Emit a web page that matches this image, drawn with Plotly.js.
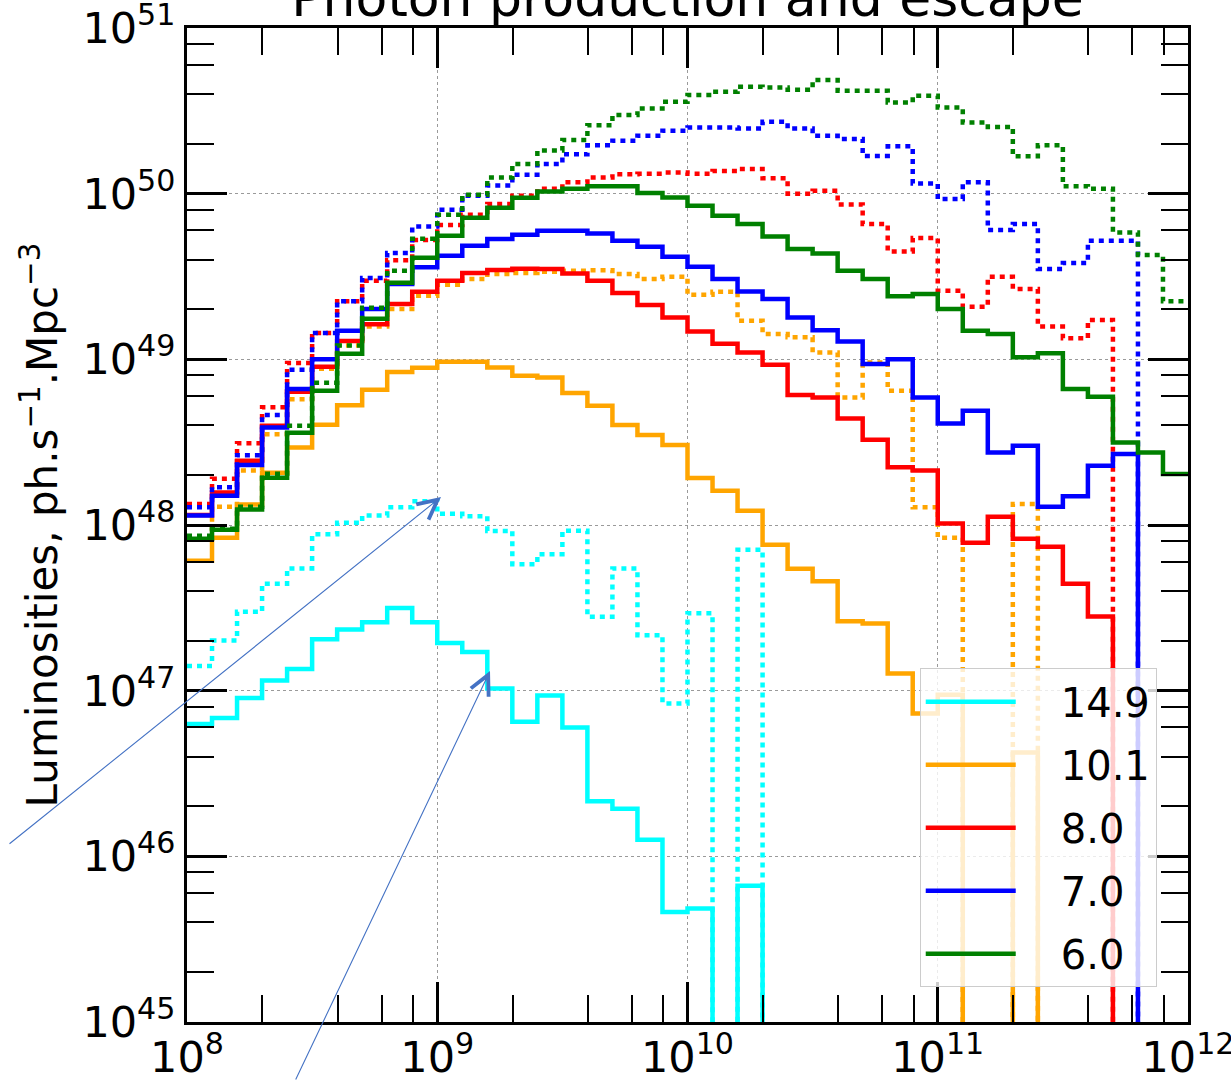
<!DOCTYPE html>
<html>
<head>
<meta charset="utf-8">
<script src="https://cdn.plot.ly/plotly-3.0.1.min.js"></script>
<style>
  html, body { margin: 0; padding: 0; background: #ffffff; }
  #chart { width: 1231px; height: 1081px; }
</style>
</head>
<body>
<div id="chart"></div>
<script>
// Bin edges (log10 of x), 0.1 dex wide bins from 1e8 to 1e12
const binEdgesLog10 = [8.0, 8.1, 8.2, 8.3, 8.4, 8.5, 8.6, 8.7, 8.8, 8.9,
  9.0, 9.1, 9.2, 9.3, 9.4, 9.5, 9.6, 9.7, 9.8, 9.9,
  10.0, 10.1, 10.2, 10.3, 10.4, 10.5, 10.6, 10.7, 10.8, 10.9,
  11.0, 11.1, 11.2, 11.3, 11.4, 11.5, 11.6, 11.7, 11.8, 11.9, 12.0];

const redshiftLabels = ['14.9', '10.1', '8.0', '7.0', '6.0'];
const seriesColors = ['#00FFFF', '#FFA500', '#FF0000', '#0000FF', '#008000'];

// Escaping luminosity per bin (solid lines); 0 = empty bin
const escaped_z149 = [6.29e46, 6.83e46, 9.03e46, 1.15e47, 1.35e47, 2.04e47, 2.34e47, 2.59e47, 3.15e47, 2.59e47,
  1.94e47, 1.71e47, 1.03e47, 6.50e46, 9.36e46, 6.00e46, 2.15e46, 1.94e46, 1.26e46, 4.62e45,
  4.85e45, 0, 6.64e45, 0, 0, 0, 0, 0, 0, 0,
  0, 0, 0, 0, 0, 0, 0, 0, 0, 0];
const escaped_z101 = [6.09e47, 8.38e47, 1.33e48, 2.07e48, 2.94e48, 4.03e48, 5.28e48, 6.55e48, 8.38e48, 8.90e48,
  9.68e48, 9.68e48, 8.94e48, 7.96e48, 7.78e48, 6.26e48, 5.25e48, 4.01e48, 3.49e48, 3.04e48,
  1.92e48, 1.61e48, 1.22e48, 7.60e47, 5.45e47, 4.58e47, 2.62e47, 2.54e47, 1.27e47, 7.27e46,
  9.46e46, 0, 0, 4.23e46, 0, 0, 0, 0, 0, 0];
const escaped_z80 = [1.15e48, 1.57e48, 2.44e48, 3.97e48, 6.37e48, 9.02e48, 1.29e49, 1.63e49, 2.16e49, 2.56e49,
  2.98e49, 3.32e49, 3.46e49, 3.52e49, 3.51e49, 3.30e49, 2.98e49, 2.51e49, 2.13e49, 1.79e49,
  1.47e49, 1.24e49, 1.10e49, 9.27e48, 6.09e48, 5.89e48, 4.40e48, 3.27e48, 2.23e48, 2.13e48,
  1.02e48, 7.82e47, 1.12e48, 8.27e47, 7.40e47, 4.42e47, 2.80e47, 0, 0, 0];
const escaped_z70 = [1.14e48, 1.50e48, 2.30e48, 3.88e48, 6.62e48, 1.00e49, 1.49e49, 2.01e49, 2.85e49, 3.59e49,
  4.22e49, 4.85e49, 5.32e49, 5.65e49, 5.97e49, 5.97e49, 5.75e49, 5.20e49, 4.78e49, 4.16e49,
  3.62e49, 3.05e49, 2.57e49, 2.31e49, 1.79e49, 1.50e49, 1.28e49, 9.37e48, 1.00e49, 5.89e48,
  4.10e48, 4.90e48, 2.74e48, 3.01e48, 1.29e48, 1.49e48, 2.28e48, 2.68e48, 0, 0];
const escaped_z60 = [8.27e47, 9.37e47, 1.24e48, 1.93e48, 3.61e48, 6.46e48, 1.08e49, 1.76e49, 2.90e49, 4.10e49,
  5.57e49, 7.15e49, 8.22e49, 9.45e49, 1.03e50, 1.07e50, 1.11e50, 1.11e50, 1.01e50, 9.49e49,
  8.45e49, 7.36e49, 6.56e49, 5.52e49, 4.63e49, 4.36e49, 3.43e49, 3.05e49, 2.40e49, 2.48e49,
  2.01e49, 1.49e49, 1.42e49, 1.03e49, 1.09e49, 6.62e48, 5.95e48, 3.15e48, 2.74e48, 2.03e48];

// Produced luminosity per bin (dotted lines); 0 = empty bin
const produced_z149 = [1.41e47, 2.01e47, 2.99e47, 4.42e47, 5.47e47, 8.78e47, 1.03e48, 1.14e48, 1.28e48, 1.39e48,
  1.17e48, 1.13e48, 9.21e47, 5.80e47, 6.66e47, 9.24e47, 2.79e47, 5.47e47, 2.16e47, 8.38e46,
  2.93e47, 0, 7.09e47, 0, 0, 0, 0, 0, 0, 0,
  0, 0, 0, 0, 0, 0, 0, 0, 0, 0];
const produced_z101 = [8.50e47, 1.29e48, 2.13e48, 3.53e48, 5.74e48, 8.78e48, 1.21e49, 1.58e49, 2.01e49, 2.42e49,
  2.82e49, 3.05e49, 3.27e49, 3.32e49, 3.38e49, 3.43e49, 3.45e49, 3.27e49, 3.05e49, 3.15e49,
  2.45e49, 2.56e49, 1.71e49, 1.42e49, 1.36e49, 1.10e49, 5.89e48, 9.58e48, 6.46e48, 1.28e48,
  8.38e47, 0, 0, 1.34e48, 0, 0, 0, 0, 0, 0];
const produced_z80 = [1.34e48, 1.90e48, 3.11e48, 5.13e48, 9.50e48, 1.44e49, 2.24e49, 2.98e49, 3.97e49, 5.25e49,
  6.47e49, 7.46e49, 8.65e49, 9.71e49, 1.07e50, 1.17e50, 1.25e50, 1.31e50, 1.32e50, 1.34e50,
  1.32e50, 1.37e50, 1.41e50, 1.24e50, 1.00e50, 1.04e50, 8.61e49, 6.56e49, 4.48e49, 5.40e49,
  2.59e49, 2.08e49, 3.15e49, 2.66e49, 1.58e49, 1.34e49, 1.73e49, 0, 0, 0];
const produced_z70 = [1.28e48, 1.69e48, 2.64e48, 4.61e48, 8.65e48, 1.44e49, 2.24e49, 3.10e49, 4.38e49, 6.34e49,
  8.00e49, 9.71e49, 1.12e50, 1.30e50, 1.51e50, 1.73e50, 1.96e50, 2.09e50, 2.24e50, 2.40e50,
  2.51e50, 2.51e50, 2.47e50, 2.72e50, 2.47e50, 2.24e50, 2.14e50, 1.69e50, 1.93e50, 1.15e50,
  9.27e49, 1.17e50, 6.03e49, 6.56e49, 3.51e49, 3.81e49, 5.20e49, 5.20e49, 0, 0];
const produced_z60 = [8.62e47, 9.50e47, 1.29e48, 2.04e48, 3.97e48, 7.22e48, 1.21e49, 2.05e49, 3.43e49, 5.34e49,
  7.46e49, 9.85e49, 1.25e50, 1.51e50, 1.82e50, 2.11e50, 2.59e50, 2.98e50, 3.27e50, 3.59e50,
  3.94e50, 4.12e50, 4.42e50, 4.38e50, 4.24e50, 4.85e50, 4.18e50, 4.18e50, 3.55e50, 3.90e50,
  3.31e50, 2.69e50, 2.53e50, 1.68e50, 1.96e50, 1.11e50, 1.07e50, 5.83e49, 4.26e49, 2.24e49];

const escapedSeries = [escaped_z149, escaped_z101, escaped_z80, escaped_z70, escaped_z60];
const producedSeries = [produced_z149, produced_z101, produced_z80, produced_z70, produced_z60];

// Tick labels
const xTickExponents = [8, 9, 10, 11, 12];
const yTickExponents = [45, 46, 47, 48, 49, 50, 51];
const minorMultipliers = [2, 4, 6, 8];

// ---------- build figure ----------
const FLOOR = 1e30; // empty bins drawn far below the axis (log scale)
const edgesX = binEdgesLog10.map(e => Math.pow(10, e));
function stepY(vals) {
  const y = vals.map(v => (v > 0 ? v : FLOOR));
  y.push(y[y.length - 1]);
  return y;
}
function minorVals(exps) {
  const out = [];
  for (let i = 0; i < exps.length - 1; i++) {
    minorMultipliers.forEach(m => out.push(m * Math.pow(10, exps[i])));
  }
  return out;
}
function supLabel(e) { return '10<sup>' + e + '</sup>'; }
function decade(e) { return Number('1e' + e); }

const traces = [];
redshiftLabels.forEach((lab, i) => {
  traces.push({
    type: 'scatter', mode: 'lines', x: edgesX, y: stepY(escapedSeries[i]),
    name: '\u2002\u2002' + lab, legendgroup: 'g' + i,
    line: { shape: 'hv', color: seriesColors[i], width: 4.5 },
    hoverinfo: 'skip'
  });
  traces.push({
    type: 'scatter', mode: 'lines', x: edgesX, y: stepY(producedSeries[i]),
    name: lab + ' (produced)', legendgroup: 'g' + i, showlegend: false,
    line: { shape: 'hv', color: seriesColors[i], width: 4.5, dash: '5px,5px' },
    hoverinfo: 'skip'
  });
});

const font = 'DejaVu Sans, Liberation Sans, sans-serif';
const axisCommon = {
  type: 'log', showline: true, linecolor: '#000', linewidth: 3, mirror: 'allticks',
  ticks: 'inside', ticklen: 40, tickwidth: 3, tickcolor: '#000',
  showgrid: true, gridcolor: '#9a9a9a', gridwidth: 1, griddash: 'dot',
  zeroline: false, tickmode: 'array', ticklabeloverflow: 'allow',
  tickfont: { family: font, size: 43, color: '#000' }
};

const layout = {
  width: 1231, height: 1081,
  margin: { l: 187, r: 43, t: 28, b: 59 },
  paper_bgcolor: '#fff', plot_bgcolor: '#fff',
  title: {
    text: 'Photon production and escape',
    font: { family: font, size: 52, color: '#000' },
    x: 0.5, xref: 'paper', xanchor: 'center',
    y: 1 - 16 / 1081, yref: 'container', yanchor: 'bottom'
  },
  xaxis: Object.assign({}, axisCommon, {
    range: [8, 12],
    ticklabelstandoff: -5,
    tickvals: xTickExponents.map(decade),
    ticktext: xTickExponents.map(supLabel),
    minor: { tickmode: 'array', tickvals: minorVals(xTickExponents), ticks: 'inside', ticklen: 27, tickwidth: 2, tickcolor: '#000', showgrid: false }
  }),
  yaxis: Object.assign({}, axisCommon, {
    range: [45, 51],
    tickvals: yTickExponents.map(decade),
    ticktext: yTickExponents.map(supLabel),
    minor: { tickmode: 'array', tickvals: minorVals(yTickExponents), ticks: 'inside', ticklen: 27, tickwidth: 2, tickcolor: '#000', showgrid: false },
    title: { text: 'Luminosities, ph.s<sup>\u22121</sup>.Mpc<sup>\u22123</sup>', font: { family: font, size: 42, color: '#000' }, standoff: 12 }
  }),
  showlegend: true,
  legend: {
    x: 0.732, y: 0.356, xanchor: 'left', yanchor: 'top',
    bgcolor: 'rgba(255,255,255,0.8)', bordercolor: '#cccccc', borderwidth: 1,
    font: { family: font, size: 40, color: '#000' },
    itemwidth: 90, tracegroupgap: 8, traceorder: 'grouped'
  },
  annotations: [
    { xref: 'paper', yref: 'paper', x: (441 - 187) / 1001, y: (1022 - 497) / 994,
      ax: -433, ay: 348, axref: 'pixel', ayref: 'pixel', text: '', showarrow: true,
      arrowhead: 5, arrowsize: 3.5, arrowwidth: 1.1, arrowcolor: '#4472C4', standoff: 0, startstandoff: 0 },
    { xref: 'paper', yref: 'paper', x: (490 - 187) / 1001, y: (1022 - 671) / 994,
      ax: -195, ay: 410, axref: 'pixel', ayref: 'pixel', text: '', showarrow: true,
      arrowhead: 5, arrowsize: 3.5, arrowwidth: 1.1, arrowcolor: '#4472C4', standoff: 0, startstandoff: 0 }
  ]
};

Plotly.newPlot('chart', traces, layout, { displayModeBar: false, staticPlot: true });
</script>
</body>
</html>
